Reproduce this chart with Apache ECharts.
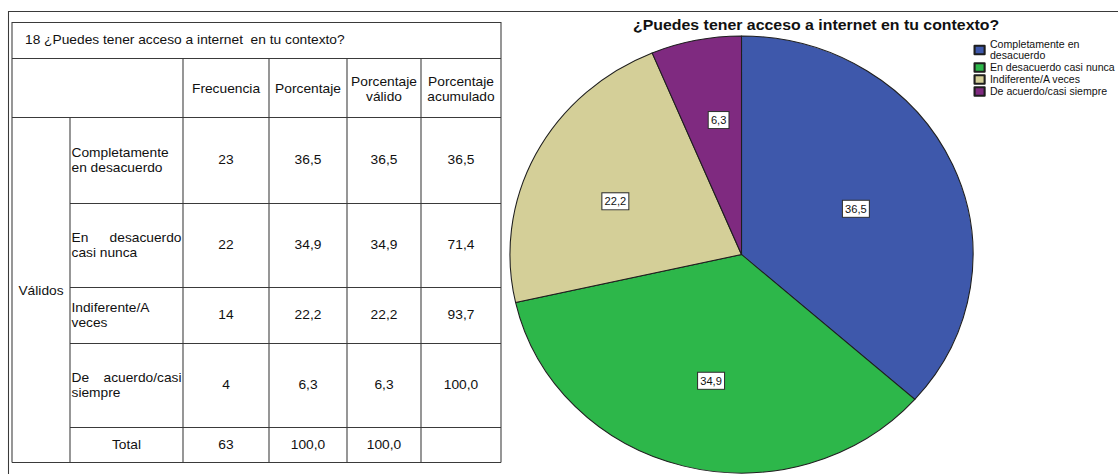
<!DOCTYPE html>
<html><head><meta charset="utf-8">
<script src="https://cdn.jsdelivr.net/npm/echarts@6/dist/echarts.min.js"></script>
<style>
html,body{margin:0;padding:0;background:#fff;overflow:hidden;}
#wrap{width:1118px;height:474px;position:relative;overflow:hidden;background:#fff;}
#chart{width:1055px;height:474px;transform:scaleX(1.0597);transform-origin:0 0;}
</style></head><body>
<div id="wrap"><div id="chart"></div></div>
<script>
// ---- data ----
const categories = ['Completamente en desacuerdo', 'En desacuerdo casi nunca', 'Indiferente/A veces', 'De acuerdo/casi siempre'];
const frecuencia = [23, 22, 14, 4];
const porcentaje = [36.5, 34.9, 22.2, 6.3];
const porcentajeValido = [36.5, 34.9, 22.2, 6.3];
const porcentajeAcumulado = [36.5, 71.4, 93.7, 100.0];
const totalFrecuencia = 63;
const totalPorcentaje = 100.0;
const totalPorcentajeValido = 100.0;
const columnHeaders = ['Frecuencia', 'Porcentaje', 'Porcentaje\nválido', 'Porcentaje\nacumulado'];
const tableTitle = '18 ¿Puedes tener acceso a internet  en tu contexto?';
const groupLabel = 'Válidos';
const totalLabel = 'Total';
const chartTitle = '¿Puedes tener acceso a internet en tu contexto?';

// ---- layout / style ----
const S = 1.0597;              // horizontal stretch of the picture
const X = v => v / S;
const colX = [12, 70, 183, 269, 347, 421, 501];
const rowY = [22, 58, 117, 203, 287, 343, 427, 462];
const rowLabelWrap = [
  [['Completamente'], ['en desacuerdo']],
  [['En', 'desacuerdo'], ['casi nunca']],
  [['Indiferente/A'], ['veces']],
  [['De', 'acuerdo/casi'], ['siempre']]
];
const legendWrap = {'Completamente en desacuerdo': 'Completamente en\ndesacuerdo'};
const labelNudge = [[5.6, 0.4], [-0.8, 17.6], [-19.3, -1.7], [0.5, -24.4]];
const colors = ['#3e58ab', '#2db74a', '#d4cf98', '#7f2a80'];
const FONT = "'Liberation Sans', Arial, sans-serif";
const lineC = '#3a3a3a';
const fmt = v => v.toFixed(1).replace('.', ',');

const g = [];
function line(x1, y1, x2, y2) {
  g.push({type: 'line', silent: true, shape: {x1, y1, x2, y2}, style: {stroke: lineC, lineWidth: 1}});
}
function text(str, x, y, align, extra) {
  g.push({type: 'text', silent: true, x: x, y: y,
    style: Object.assign({text: str, x: 0, y: 0, align: align, textAlign: align,
      verticalAlign: 'middle', textVerticalAlign: 'middle',
      fontSize: 13, fontFamily: FONT, fill: '#111', lineHeight: 15}, extra || {})});
}
// frame
line(X(8), 11.5, 1056, 11.5);
line(X(8.5), 11, X(8.5), 474);
// table outline
line(X(colX[0]), rowY[0] + 0.5, X(colX[6]), rowY[0] + 0.5);
line(X(colX[0]), rowY[7] + 0.5, X(colX[6]), rowY[7] + 0.5);
line(X(colX[0]), rowY[0], X(colX[0]), rowY[7] + 0.5);
line(X(colX[6]), rowY[0], X(colX[6]), rowY[7] + 0.5);
line(X(colX[0]), rowY[1] + 0.5, X(colX[6]), rowY[1] + 0.5);
line(X(colX[0]), rowY[2] + 0.5, X(colX[6]), rowY[2] + 0.5);
for (let r = 3; r <= 6; r++) line(X(colX[1]), rowY[r] + 0.5, X(colX[6]), rowY[r] + 0.5);
line(X(colX[1]), rowY[2] + 0.5, X(colX[1]), rowY[7] + 0.5);
for (let c = 2; c <= 5; c++) line(X(colX[c]), rowY[1] + 0.5, X(colX[c]), rowY[7] + 0.5);

// texts
text(tableTitle, X(25), 40, 'left');
columnHeaders.forEach((h, i) => text(h, X((colX[i + 2] + colX[i + 3]) / 2), 89, 'center'));
const cols = [frecuencia.map(String), porcentaje.map(fmt), porcentajeValido.map(fmt), porcentajeAcumulado.map(fmt)];
categories.forEach((cat, r) => {
  const cy = (rowY[r + 2] + rowY[r + 3]) / 2;
  cols.forEach((col, c) => text(col[r], X((colX[c + 2] + colX[c + 3]) / 2), cy, 'center'));
  const lines = rowLabelWrap[r];
  lines.forEach((parts, li) => {
    const ly = cy + (li - (lines.length - 1) / 2) * 15;
    text(parts[0], X(71.5), ly, 'left');
    if (parts.length > 1) text(parts[1], X(181.5), ly, 'right');
  });
});
text(groupLabel, X(41), 291, 'center');
const ty = (rowY[6] + rowY[7]) / 2;
text(totalLabel, X((colX[1] + colX[2]) / 2), ty, 'center');
[String(totalFrecuencia), fmt(totalPorcentaje), fmt(totalPorcentajeValido)].forEach((v, c) =>
  text(v, X((colX[c + 2] + colX[c + 3]) / 2), ty, 'center'));

const chart = echarts.init(document.getElementById('chart'), null, {renderer: 'svg'});
chart.setOption({
  backgroundColor: '#fff',
  animation: false,
  color: colors,
  title: {
    text: chartTitle, left: X(633), top: 17, padding: 0,
    textStyle: {fontSize: 15, fontWeight: 'bold', fontFamily: FONT, color: '#111'}
  },
  legend: {
    orient: 'vertical', left: X(973.5), top: 39, padding: 0,
    itemWidth: 9.5, itemHeight: 8.5, itemGap: 1, icon: 'rect', selectedMode: false,
    formatter: n => legendWrap[n] || n,
    textStyle: {fontSize: 10, lineHeight: 11, fontFamily: FONT, color: '#111'}
  },
  graphic: g,
  series: [{
    type: 'pie',
    center: [X(741.5), 254.5],
    radius: 218.5,
    startAngle: 90,
    clockwise: true,
    avoidLabelOverlap: false,
    silent: true,
    data: categories.map((n, i) => ({name: n, value: porcentaje[i]})),
    itemStyle: {borderColor: '#1e1e1e', borderWidth: 1},
    label: {
      show: true, position: 'inside',
      formatter: p => fmt(p.value),
      backgroundColor: '#fff', borderColor: '#333', borderWidth: 1,
      padding: [3, 2, 2, 2], fontSize: 10.5, fontFamily: FONT, color: '#111'
    },
    labelLine: {show: false},
    labelLayout: p => ({dx: labelNudge[p.dataIndex][0], dy: labelNudge[p.dataIndex][1]}),
    emphasis: {disabled: true}
  }]
});
</script>
</body></html>
